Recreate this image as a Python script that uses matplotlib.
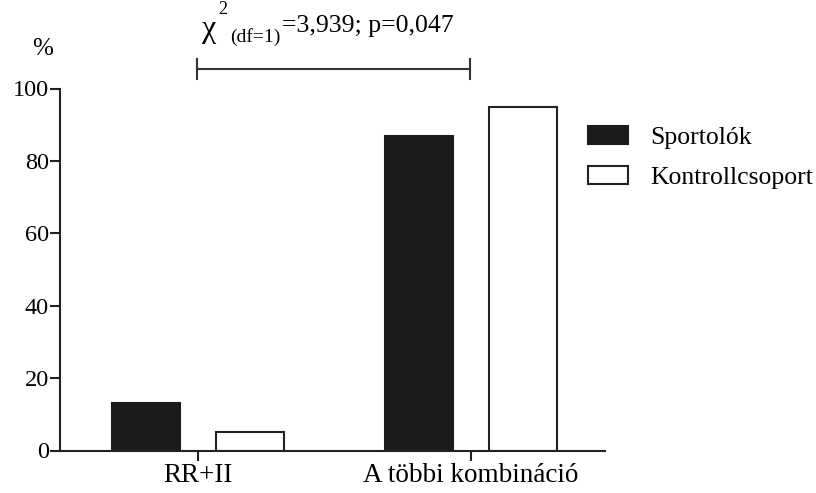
import numpy as np
import matplotlib.pyplot as plt

plt.rcParams['font.family'] = ['Liberation Serif', 'DejaVu Serif']

categories = ['RR+II', 'A többi kombináció']
sportolok = [13, 87]
kontroll = [5, 95]
series_names = ['Sportolók', 'Kontrollcsoport']

W, H = 816, 493
fig = plt.figure(figsize=(W / 100, H / 100), dpi=100)
ax = fig.add_axes([60 / W, 1 - 450.5 / H, 545 / W, 362 / H])

x = np.arange(len(categories))
w = 0.25
off = 0.19
ax.bar(x - off, sportolok, w, color='#1a1a1a', edgecolor='#1a1a1a', linewidth=1.5,
       label=series_names[0])
ax.bar(x + off, kontroll, w, color='white', edgecolor='#222222', linewidth=1.5,
       label=series_names[1])

ax.set_xlim(-0.505, 1.49)
ax.set_ylim(0, 100)
ax.set_yticks(range(0, 101, 20))
ax.set_xticks(x)
ax.set_xticklabels(categories)
for s in ['top', 'right']:
    ax.spines[s].set_visible(False)
for s in ['left', 'bottom']:
    ax.spines[s].set_linewidth(1.5)
    ax.spines[s].set_color('#222222')
ax.tick_params(axis='both', width=1.5, color='#222222', length=7)
ax.tick_params(axis='y', labelsize=17.5, pad=1)
ax.tick_params(axis='x', labelsize=19.5, pad=2)

ax.text(-0.57, 110.8, '%', fontsize=18, ha='center', va='center', clip_on=False)

# significance bracket between the two groups
y_br = 105.3
ax.plot([-0.005, 0.995], [y_br, y_br], color='#333333', lw=1.5, clip_on=False)
for xe in [-0.005, 0.995]:
    ax.plot([xe, xe], [y_br - 2.8, y_br + 2.8], color='#333333', lw=1.5, clip_on=False)


# chi-square label assembled from pieces (symbol, sup, sub, rest)
def put(px, py, s, size, **kw):
    t = fig.text(px / W, 1 - py / H, s, fontsize=size, ha='left', va='baseline', **kw)
    fig.canvas.draw()
    bb = t.get_window_extent()
    return bb.x1


r_chi = put(202, 37, 'χ', 23)
r_sup = put(r_chi + 2, 14, '2', 13)
r_sub = put(r_sup + 3, 42, '(df=1)', 14)
put(r_sub + 1, 32, '=3,939; p=0,047', 18.5)

ax.legend(loc='upper left', bbox_to_anchor=(588 / W, 0.744), bbox_transform=fig.transFigure,
          frameon=False, fontsize=18.5, borderpad=0, borderaxespad=0,
          handlelength=1.56, handleheight=0.7, handletextpad=0.85, labelspacing=0.66)

fig.savefig('out.png', dpi=100)
